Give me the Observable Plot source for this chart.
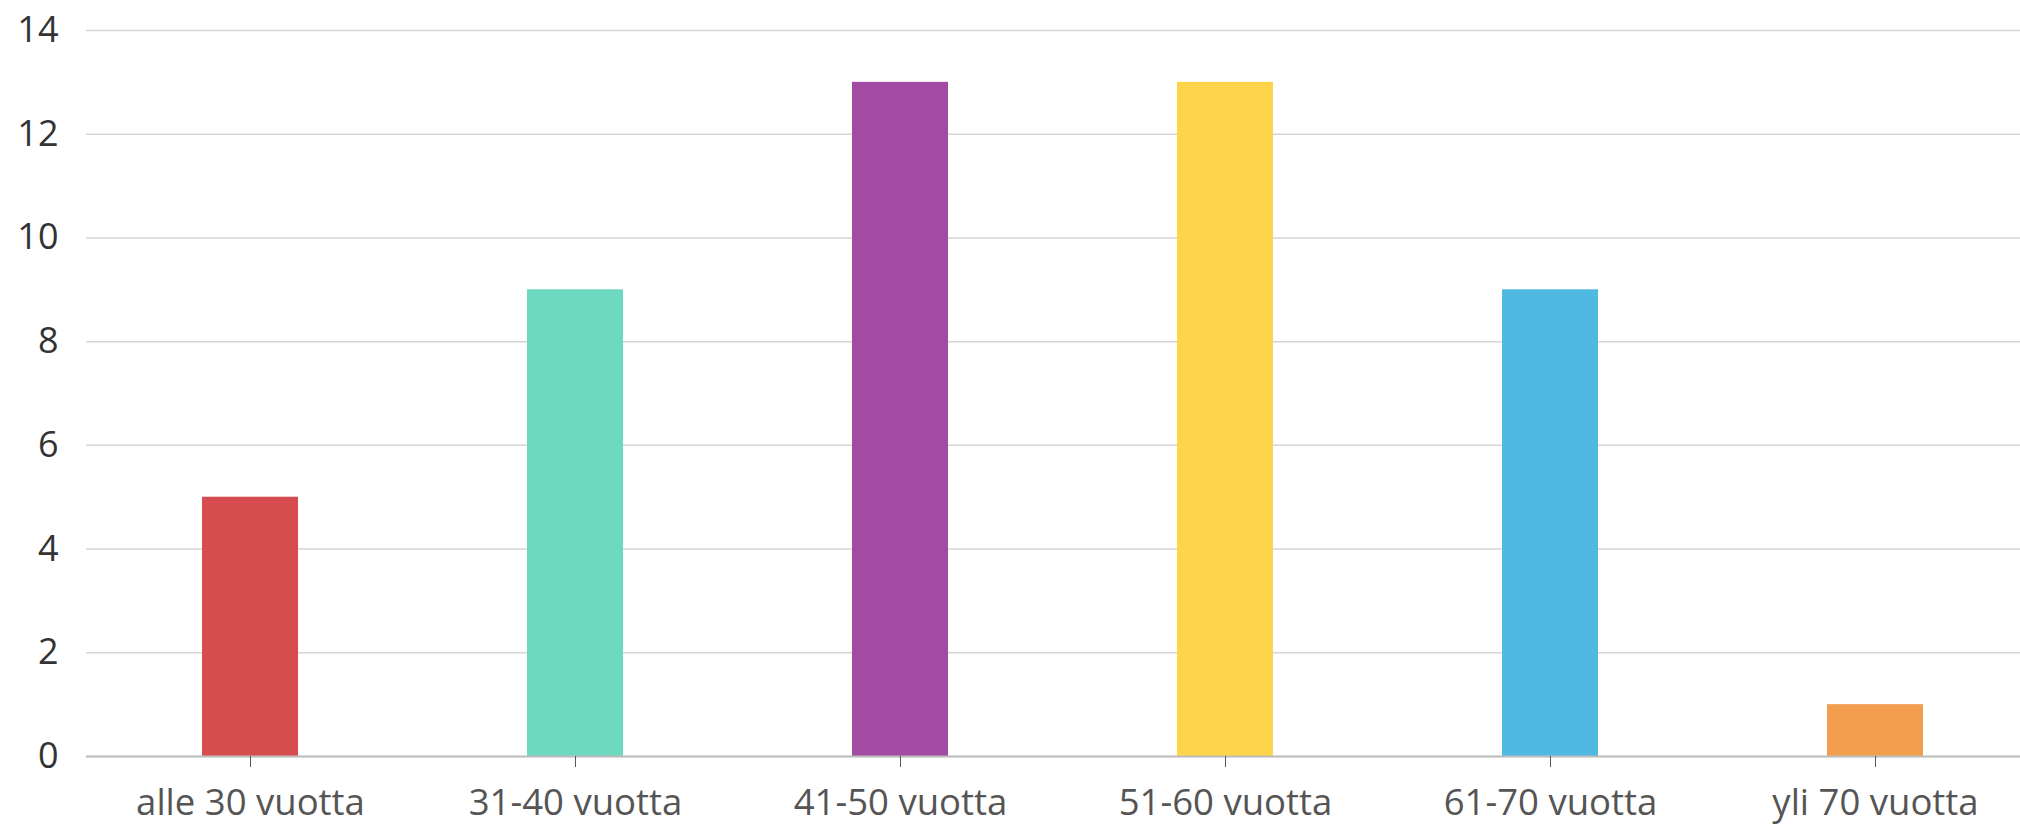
<!DOCTYPE html>
<html>
<head>
<meta charset="utf-8">
<script src="https://cdn.jsdelivr.net/npm/d3@7"></script>
<script src="https://cdn.jsdelivr.net/npm/@observablehq/plot@0.6"></script>
<style>
  html, body { margin: 0; padding: 0; background: #fff; }
  #chart svg { display: block; }
</style>
</head>
<body>
<div id="chart"></div>
<script>
const categories = ["alle 30 vuotta", "31-40 vuotta", "41-50 vuotta", "51-60 vuotta", "61-70 vuotta", "yli 70 vuotta"];
const values = [5, 9, 13, 13, 9, 1];
const colors = ["#d64c4f", "#6dd9c0", "#a34ba3", "#fed44a", "#4fb9e2", "#f39e4e"];
const yTicks = [0, 2, 4, 6, 8, 10, 12, 14];

const data = categories.map((c, i) => ({category: c, value: values[i], color: colors[i]}));

const chart = Plot.plot({
  width: 2020,
  height: 826,
  marginTop: 30,
  marginBottom: 70,
  marginLeft: 86,
  marginRight: 0,
  style: {fontFamily: "'Open Sans', sans-serif", background: "#fff"},
  x: {domain: categories, range: [87, 2038], paddingInner: 0.705, paddingOuter: 0.3525, label: null},
  y: {domain: [0, 14], label: null},
  marks: [
    Plot.gridY(yTicks, {stroke: "#d6d6d6", strokeOpacity: 1, strokeWidth: 1.5}),
    Plot.barY(data, {x: "category", y: "value", fill: "color"}),
    Plot.ruleY([0], {stroke: "#bdbdbd", strokeWidth: 2}),
    Plot.axisY({ticks: yTicks, tickSize: 0, tickPadding: 28, fontSize: 36, fill: "#333", label: null}),
    Plot.axisX({tickSize: 11, tickPadding: 22, fontSize: 36.5, fill: "#555", stroke: "#555", label: null})
  ]
});
document.getElementById("chart").append(chart);
</script>
</body>
</html>
